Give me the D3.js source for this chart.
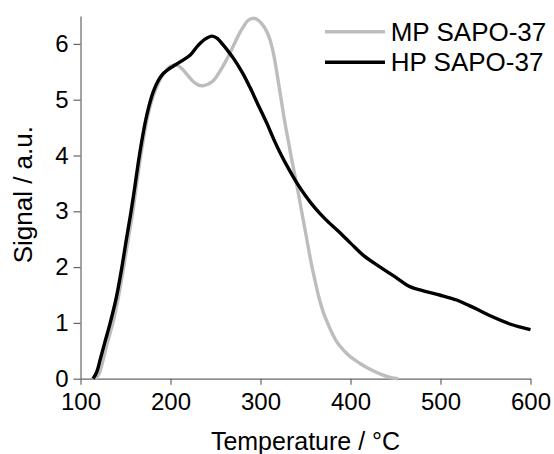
<!DOCTYPE html>
<html>
<head>
<meta charset="utf-8">
<script src="https://cdn.jsdelivr.net/npm/d3@7"></script>
<style>
  body { margin: 0; background: #fff; }
  svg { font-family: "Liberation Sans", Arial, sans-serif; }
</style>
</head>
<body>
<div id="chart"></div>
<script>
// series: [temperature °C, signal a.u.]
var mpSapo = [[117,0],[121,0.1],[125,0.33],[130,0.65],[136,1.0],[142,1.45],[148,2.0],[153,2.5],[158,2.98],[162,3.45],
  [166,3.9],[170,4.3],[174,4.65],[178.5,4.95],[183.5,5.18],[189,5.38],[194,5.5],[200,5.6],[207,5.62],[213,5.55],[218,5.46],
  [225,5.33],[231,5.26],[236,5.25],[242,5.28],[248,5.35],[253,5.46],[259,5.62],[265,5.8],[270,5.97],[276,6.17],
  [281,6.31],[286,6.42],[292,6.46],[297,6.43],[302,6.35],[307,6.22],[311,6.05],[315,5.78],[319,5.4],[323,5.0],
  [327,4.6],[331,4.25],[335,3.9],[340,3.5],[344,3.15],[348,2.8],[352,2.45],[356,2.1],[360,1.8],
  [365,1.45],[370,1.18],[375,0.98],[380,0.8],[386,0.63],[393,0.5],[400,0.39],[410,0.28],[418,0.2],[428,0.12],
  [437,0.06],[445,0.02],[453,0]];

var hpSapo = [[114,0],[118,0.12],[122,0.35],[127,0.65],[133,1.0],[140,1.47],[146,2.0],[151,2.5],[156,2.98],[160,3.4],
  [164,3.85],[168,4.25],[172,4.6],[176,4.88],[181,5.15],[187,5.36],[192,5.47],[198,5.55],[203,5.6],[212,5.69],[222,5.8],
  [230,5.96],[238,6.08],[246,6.14],[252,6.1],[258,5.99],[264,5.87],[270,5.74],[280,5.48],[288,5.23],[297,4.92],
  [307,4.58],[315,4.28],[323,4.01],[331,3.77],[340,3.52],[350,3.28],[360,3.07],[372,2.86],[386,2.65],[400,2.43],
  [415,2.2],[433,2.0],[450,1.82],[466,1.65],[480,1.58],[499,1.5],[518,1.41],[532,1.31],[545,1.21],[559,1.1],
  [577,0.98],[590,0.92],[600,0.88]];

var seriesNames = ["MP SAPO-37", "HP SAPO-37"];
var seriesColors = ["#bdbdbd", "#000000"];
var xTicks = [100, 200, 300, 400, 500, 600];
var yTicks = [0, 1, 2, 3, 4, 5, 6];

var W = 554, H = 454;
var margin = {top: 16, right: 23.5, bottom: 75.3, left: 80.5};
var width = W - margin.left - margin.right,
    height = H - margin.top - margin.bottom;

var x = d3.scaleLinear().domain([100, 600]).range([0, width]);
var y = d3.scaleLinear().domain([0, 6.5]).range([height, 0]);

var svg = d3.select("#chart").append("svg")
  .attr("width", W).attr("height", H)
  .append("g")
  .attr("transform", "translate(" + margin.left + "," + margin.top + ")");

// axes
var xAxis = svg.append("g")
  .attr("transform", "translate(0," + height + ")")
  .call(d3.axisBottom(x).tickValues(xTicks).tickSize(6).tickSizeOuter(0).tickPadding(7));
var yAxis = svg.append("g")
  .call(d3.axisLeft(y).tickValues(yTicks).tickFormat(d3.format("d")).tickSize(7).tickSizeOuter(0).tickPadding(5));

[xAxis, yAxis].forEach(function(a) {
  a.select(".domain").attr("stroke", "#666").attr("stroke-width", 1.2);
  a.selectAll(".tick line").attr("stroke", "#666").attr("stroke-width", 1.2);
  a.selectAll(".tick text").attr("fill", "#000").style("font-size", "24px");
});
xAxis.selectAll(".tick text").attr("dy", "0.75em");

// lines
var line = d3.line()
  .x(function(d) { return x(d[0]); })
  .y(function(d) { return y(d[1]); })
  .curve(d3.curveCatmullRom.alpha(0.5));

[mpSapo, hpSapo].forEach(function(data, i) {
  svg.append("path")
    .datum(data)
    .attr("fill", "none")
    .attr("stroke", seriesColors[i])
    .attr("stroke-width", 3.4)
    .attr("stroke-linejoin", "round")
    .attr("d", line);
});

// axis titles
svg.append("text")
  .attr("x", width / 2).attr("y", height + 71.5)
  .attr("text-anchor", "middle")
  .style("font-size", "25px")
  .text("Temperature / °C");

svg.append("text")
  .attr("transform", "translate(" + (-48.5) + "," + (178.7) + ") rotate(-90)")
  .attr("text-anchor", "middle")
  .style("font-size", "26px")
  .text("Signal / a.u.");

// legend
var legend = svg.append("g").attr("transform", "translate(" + (325 - margin.left) + "," + (31.7 - margin.top) + ")");
seriesNames.forEach(function(name, i) {
  var g = legend.append("g").attr("transform", "translate(0," + (i * 30.6) + ")");
  g.append("line").attr("x1", 0).attr("x2", 60).attr("y1", 0).attr("y2", 0)
    .attr("stroke", seriesColors[i]).attr("stroke-width", 3.6);
  g.append("text").attr("x", 65.7).attr("y", 9)
    .style("font-size", "26px")
    .text(name);
});
</script>
</body>
</html>
